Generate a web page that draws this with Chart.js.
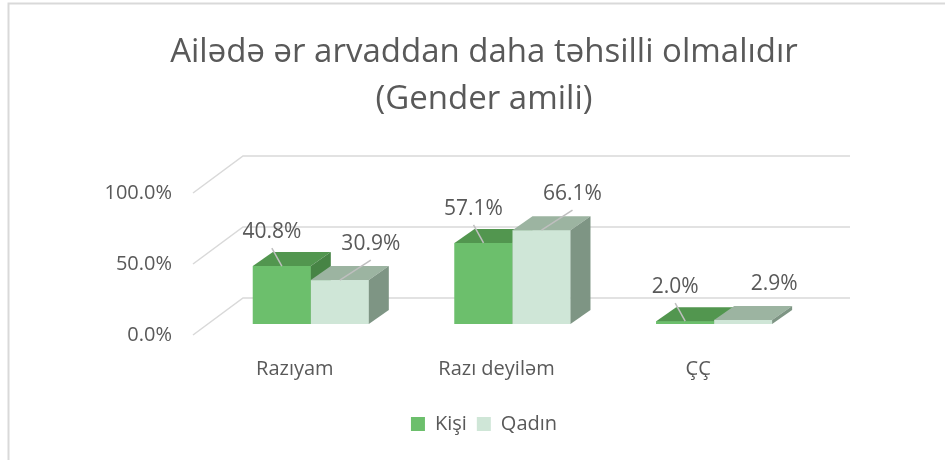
<!DOCTYPE html>
<html>
<head>
<meta charset="utf-8">
<script src="https://cdn.jsdelivr.net/npm/chart.js@4"></script>
<style>
  html, body { margin: 0; padding: 0; background: #fff; }
  #wrap { width: 945px; height: 460px; }
</style>
</head>
<body>
<div id="wrap"><canvas id="chart" width="945" height="460"></canvas></div>
<script>
const categories = ["Razıyam", "Razı deyiləm", "ÇÇ"];
const seriesNames = ["Kişi", "Qadın"];
const kisiValues = [40.8, 57.1, 2.0];
const qadinValues = [30.9, 66.1, 2.9];
const yTicks = [0, 50, 100];

// front / top / side face colours for each series
const faceColors = [
    { front: "#6cbf6c", top: "#52964f", side: "#478445" },
    { front: "#cfe6d7", top: "#9cb4a1", side: "#7e9584" }
];

const textColor = "#595959";
const gridColor = "#d9d9d9";
const depth = { dx: 20, dy: -14 };

// frame + 3d walls gridlines
const backdrop = {
    id: "backdrop",
    beforeDraw(chart) {
        const ctx = chart.ctx;
        ctx.save();
        ctx.fillStyle = "#fff";
        ctx.fillRect(0, 0, chart.width, chart.height);
        ctx.strokeStyle = "#d9d9d9";
        ctx.lineWidth = 2;
        ctx.beginPath();
        ctx.moveTo(8.5, chart.height);
        ctx.lineTo(8.5, 3.5);
        ctx.lineTo(chart.width, 3.5);
        ctx.stroke();
        ctx.restore();
    },
    beforeDatasetsDraw(chart) {
        const ctx = chart.ctx;
        const y = chart.scales.y;
        const left = chart.chartArea.left;
        ctx.save();
        ctx.strokeStyle = gridColor;
        ctx.lineWidth = 1.5;
        yTicks.forEach(v => {
            const py = y.getPixelForValue(v);
            ctx.beginPath();
            ctx.moveTo(left - 17, py + 11);
            ctx.lineTo(left + 33, py - 26);
            ctx.lineTo(left + 640, py - 26);
            ctx.stroke();
        });
        ctx.restore();
    }
};

// side and top faces of the bars, plus value labels
const bars3d = {
    id: "bars3d",
    afterDatasetsDraw(chart) {
        const ctx = chart.ctx;
        ctx.save();
        chart.data.datasets.forEach((ds, di) => {
            const meta = chart.getDatasetMeta(di);
            const c = faceColors[di];
            meta.data.forEach(bar => {
                const l = bar.x - bar.width / 2, r = bar.x + bar.width / 2;
                const t = bar.y, b = bar.base;
                ctx.fillStyle = c.front;
                ctx.fillRect(l, t, r - l, b - t);
                ctx.fillStyle = c.top;
                ctx.beginPath();
                ctx.moveTo(l, t);
                ctx.lineTo(l + depth.dx, t + depth.dy);
                ctx.lineTo(r + depth.dx, t + depth.dy);
                ctx.lineTo(r, t);
                ctx.closePath();
                ctx.fill();
                ctx.fillStyle = c.side;
                ctx.beginPath();
                ctx.moveTo(r, t);
                ctx.lineTo(r + depth.dx, t + depth.dy);
                ctx.lineTo(r + depth.dx, b + depth.dy);
                ctx.lineTo(r, b);
                ctx.closePath();
                ctx.fill();
            });
        });
        ctx.font = "21px 'Open Sans'";
        ctx.textAlign = "center";
        ctx.textBaseline = "middle";
        chart.data.datasets.forEach((ds, di) => {
            const meta = chart.getDatasetMeta(di);
            const ox = di === 0 ? -10 : 31;
            const oy = di === 0 ? -34 : -36;
            meta.data.forEach((bar, i) => {
                const cx = bar.x, t = bar.y;
                // short leaders are left out, as in the source
                if (di === 0 || ds.data[i] > 10) {
                    ctx.strokeStyle = "#bfbfbf";
                    ctx.lineWidth = 1.5;
                    ctx.beginPath();
                    ctx.moveTo(cx, t);
                    ctx.lineTo(cx + ox, t + oy + 16);
                    ctx.stroke();
                }
                ctx.fillStyle = textColor;
                ctx.fillText(ds.data[i].toFixed(1) + "%", cx + ox, t + oy);
            });
        });
        ctx.restore();
    }
};

Chart.defaults.font.family = "'Open Sans', sans-serif";
Chart.defaults.color = textColor;

new Chart(document.getElementById("chart"), {
    type: "bar",
    data: {
        labels: categories,
        datasets: [
            { label: seriesNames[0], data: kisiValues, backgroundColor: faceColors[0].front },
            { label: seriesNames[1], data: qadinValues, backgroundColor: faceColors[1].front }
        ]
    },
    options: {
        responsive: false,
        animation: false,
        events: [],
        layout: { padding: { left: 23, right: 0, top: 0, bottom: 16 } },
        datasets: { bar: { barPercentage: 1, categoryPercentage: 0.575 } },
        plugins: {
            title: {
                display: true,
                text: ["Ailədə ər arvaddan daha təhsilli olmalıdır", "(Gender amili)"],
                color: textColor,
                font: { size: 33, weight: "normal", lineHeight: 1.424 },
                padding: { top: 29, bottom: 59 }
            },
            legend: {
                position: "bottom",
                labels: {
                    boxWidth: 14,
                    boxHeight: 14,
                    padding: 10,
                    color: textColor,
                    font: { size: 20 }
                }
            },
            tooltip: { enabled: false }
        },
        scales: {
            x: {
                grid: { display: false, drawTicks: false },
                border: { display: false },
                ticks: { font: { size: 20 }, padding: 33, labelOffset: -16 },
                afterFit: s => { s.height = 80; }
            },
            y: {
                min: 0,
                max: 100,
                grid: { display: false, drawTicks: false },
                border: { display: false },
                ticks: {
                    stepSize: 50,
                    font: { size: 20 },
                    padding: 38,
                    labelOffset: 11,
                    callback: v => v.toFixed(1) + "%"
                },
                afterFit: s => { s.width = 187; }
            },
            yRight: {
                position: "right",
                display: true,
                grid: { display: false, drawTicks: false },
                border: { display: false },
                ticks: { display: false },
                afterFit: s => { s.width = 130; }
            }
        }
    },
    plugins: [backdrop, bars3d]
});
</script>
</body>
</html>
